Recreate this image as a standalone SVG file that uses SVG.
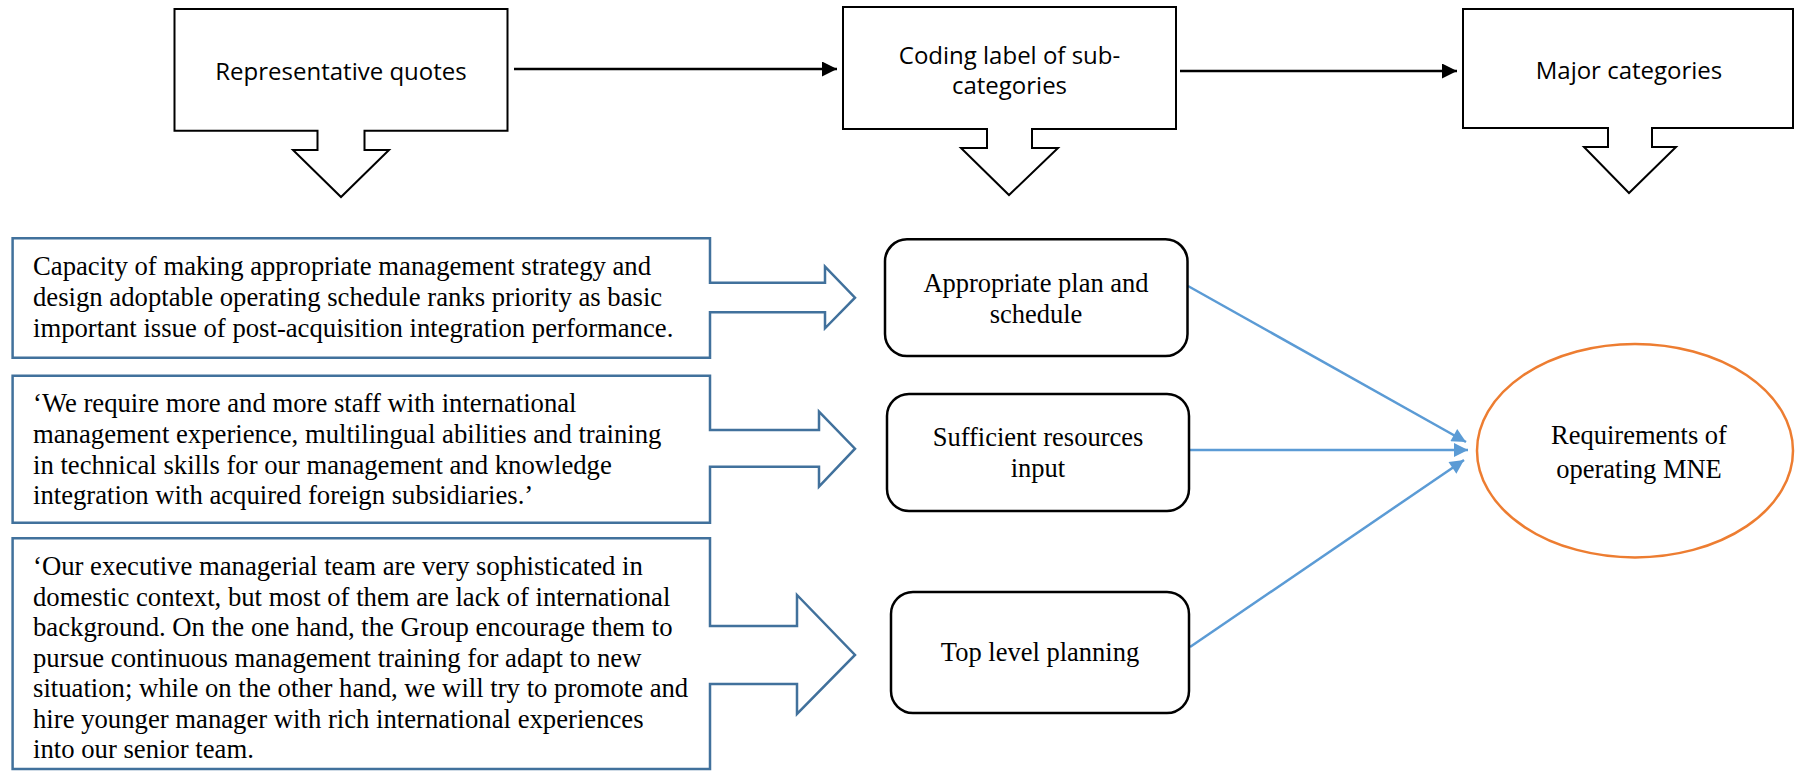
<svg xmlns="http://www.w3.org/2000/svg" width="1795" height="771" viewBox="0 0 1795 771">
<style>
.hdr{fill:#fff;stroke:#000;stroke-width:2}
.hdt{font-family:"Open Sans","Liberation Sans",sans-serif;font-size:24px;fill:#000;text-anchor:middle}
.quote{fill:#fff;stroke:#41719C;stroke-width:2.5}
.qt{font-family:"Liberation Serif","Times New Roman",serif;font-size:26.7px;fill:#000}
.rb{fill:#fff;stroke:#000;stroke-width:2.5}
.ct{font-family:"Liberation Serif","Times New Roman",serif;font-size:26.5px;fill:#000;text-anchor:middle}
.blk{stroke:#000;stroke-width:2.5;fill:none}
.blu{stroke:#5B9BD5;stroke-width:2.5;fill:none}
</style>
<defs>
<marker id="ab" viewBox="0 0 10 10" refX="10" refY="5" markerWidth="15" markerHeight="15" markerUnits="userSpaceOnUse" orient="auto"><path d="M0,0 L10,5 L0,10 Z" fill="#000"/></marker>
<marker id="au" viewBox="0 0 10 10" refX="10" refY="5" markerWidth="15" markerHeight="14" markerUnits="userSpaceOnUse" orient="auto"><path d="M0,0 L10,5 L0,10 Z" fill="#5B9BD5"/></marker>
</defs>
<rect width="1795" height="771" fill="#fff"/>
<g id="connectors">
<line class="blk" x1="514" y1="69" x2="837" y2="69" marker-end="url(#ab)"/>
<line class="blk" x1="1180" y1="71" x2="1457" y2="71" marker-end="url(#ab)"/>
<line class="blu" x1="1188" y1="286" x2="1466" y2="442" marker-end="url(#au)"/>
<line class="blu" x1="1190" y1="450" x2="1468" y2="450" marker-end="url(#au)"/>
<line class="blu" x1="1190" y1="647" x2="1464" y2="460" marker-end="url(#au)"/>
</g>
<g id="hdr-quotes">
<path class="hdr" d="M174.5,9 H507.5 V130.7 H364.5 V150 H389 L341,197 L293,150 H317.5 V130.7 H174.5 Z"/>
<text class="hdt" x="341" y="80">Representative quotes</text>
</g>
<g id="hdr-coding">
<path class="hdr" d="M843,7 H1176 V129 H1032 V148 H1058 L1009,195 L961,148 H987 V129 H843 Z"/>
<text class="hdt" x="1009.5" y="64">Coding label of sub-</text>
<text class="hdt" x="1009.5" y="94">categories</text>
</g>
<g id="hdr-major">
<path class="hdr" d="M1463,9 H1793 V128 H1652 V147 H1676 L1629,193 L1584,147 H1608 V128 H1463 Z"/>
<text class="hdt" x="1629" y="79">Major categories</text>
</g>
<g id="quote1">
<path class="quote" d="M12.6,238.3 H710 V282.7 H825 V266.7 L855,297.7 L825,328.3 V312.3 H710 V357.7 H12.6 Z"/>
<text class="qt" x="33" y="275">Capacity of making appropriate management strategy and</text>
<text class="qt" x="33" y="306">design adoptable operating schedule ranks priority as basic</text>
<text class="qt" x="33" y="337">important issue of post-acquisition integration performance.</text>
</g>
<g id="quote2">
<path class="quote" d="M12.6,375.7 H710 V430 H819 V411.7 L855,448.7 L819,486.7 V466.7 H710 V522.7 H12.6 Z"/>
<text class="qt" x="33" y="412">‘We require more and more staff with international</text>
<text class="qt" x="33" y="443">management experience, multilingual abilities and training</text>
<text class="qt" x="33" y="473.5">in technical skills for our management and knowledge</text>
<text class="qt" x="33" y="504">integration with acquired foreign subsidiaries.’</text>
</g>
<g id="quote3">
<path class="quote" d="M12.6,538.3 H710 V626 H797 V595 L855,655 L797,714 V684 H710 V769 H12.6 Z"/>
<text class="qt" x="33" y="575">‘Our executive managerial team are very sophisticated in</text>
<text class="qt" x="33" y="605.5">domestic context, but most of them are lack of international</text>
<text class="qt" x="33" y="636">background. On the one hand, the Group encourage them to</text>
<text class="qt" x="33" y="666.5">pursue continuous management training for adapt to new</text>
<text class="qt" x="33" y="697">situation; while on the other hand, we will try to promote and</text>
<text class="qt" x="33" y="727.5">hire younger manager with rich international experiences</text>
<text class="qt" x="33" y="758">into our senior team.</text>
</g>
<g id="plan">
<rect class="rb" x="885" y="239.3" width="302.5" height="116.7" rx="22"/>
<text class="ct" x="1036" y="292">Appropriate plan and</text>
<text class="ct" x="1036" y="322.5">schedule</text>
</g>
<g id="resources">
<rect class="rb" x="887" y="394" width="302" height="117" rx="22"/>
<text class="ct" x="1038" y="446">Sufficient resources</text>
<text class="ct" x="1038" y="477">input</text>
</g>
<g id="toplevel">
<rect class="rb" x="891" y="592" width="298" height="121" rx="22"/>
<text class="ct" x="1040" y="661">Top level planning</text>
</g>
<g id="mne">
<ellipse cx="1635" cy="450.7" rx="158" ry="106.7" fill="#fff" stroke="#ED7D31" stroke-width="2.5"/>
<text class="ct" x="1639" y="444">Requirements of</text>
<text class="ct" x="1639" y="477.5">operating MNE</text>
</g>
</svg>
